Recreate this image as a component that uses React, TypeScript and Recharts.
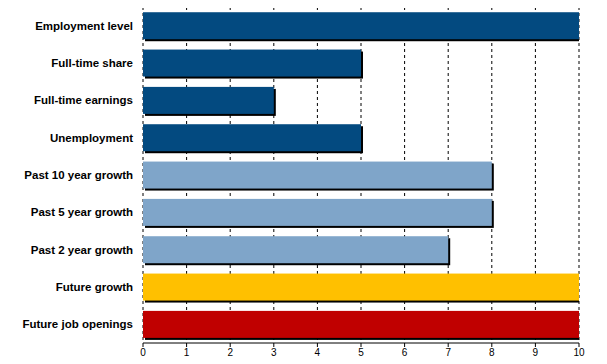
import { BarChart, Bar, XAxis, YAxis, CartesianGrid, Cell } from "recharts";

const categories = [
  "Employment level",
  "Full-time share",
  "Full-time earnings",
  "Unemployment",
  "Past 10 year growth",
  "Past 5 year growth",
  "Past 2 year growth",
  "Future growth",
  "Future job openings",
];
const scores = [10, 5, 3, 5, 8, 8, 7, 10, 10];
const groups = ["now", "now", "now", "now", "past", "past", "past", "future", "openings"];
const xTicks = [0, 1, 2, 3, 4, 5, 6, 7, 8, 9, 10];

const palette: Record<string, string> = {
  now: "#034a80",
  past: "#7fa5c9",
  future: "#ffc000",
  openings: "#c00000",
};

const data = categories.map((name, i) => ({ name, score: scores[i], group: groups[i] }));

const font = "'Liberation Sans', Arial, sans-serif";

function ShadowBar(props: any) {
  const { x, y, width, height, fill, value } = props;
  const full = Number(Array.isArray(value) ? value[1] : value) >= 10;
  return (
    <g>
      <rect x={x + 2} y={y + 2} width={full ? width - 2 : width} height={height} fill="#000" />
      <rect x={x} y={y} width={width} height={height} fill={fill} />
    </g>
  );
}

export default function App() {
  return (
    <div style={{ margin: -8, width: 607, height: 364, background: "#fff" }}>
      <BarChart
        width={607}
        height={364}
        data={data}
        layout="vertical"
        margin={{ top: 7, right: 28, bottom: 0, left: 0 }}
        barCategoryGap="14%"
      >
        <CartesianGrid horizontal={false} stroke="#000" strokeDasharray="3 3" />
        <XAxis
          type="number"
          domain={[0, 10]}
          ticks={xTicks}
          interval={0}
          height={21}
          axisLine={{ stroke: "#000" }}
          tickLine={{ stroke: "#000" }}
          tickSize={4}
          tick={{ fill: "#000", fontSize: 10, fontFamily: font }}
        />
        <YAxis
          type="category"
          dataKey="name"
          width={143}
          axisLine={false}
          tickLine={false}
          tickSize={0}
          tickMargin={10}
          tick={{ fill: "#000", fontSize: 11.5, fontWeight: "bold", fontFamily: font }}
        />
        <Bar dataKey="score" isAnimationActive={false} shape={<ShadowBar />}>
          {data.map((d) => (
            <Cell key={d.name} fill={palette[d.group]} />
          ))}
        </Bar>
      </BarChart>
    </div>
  );
}
